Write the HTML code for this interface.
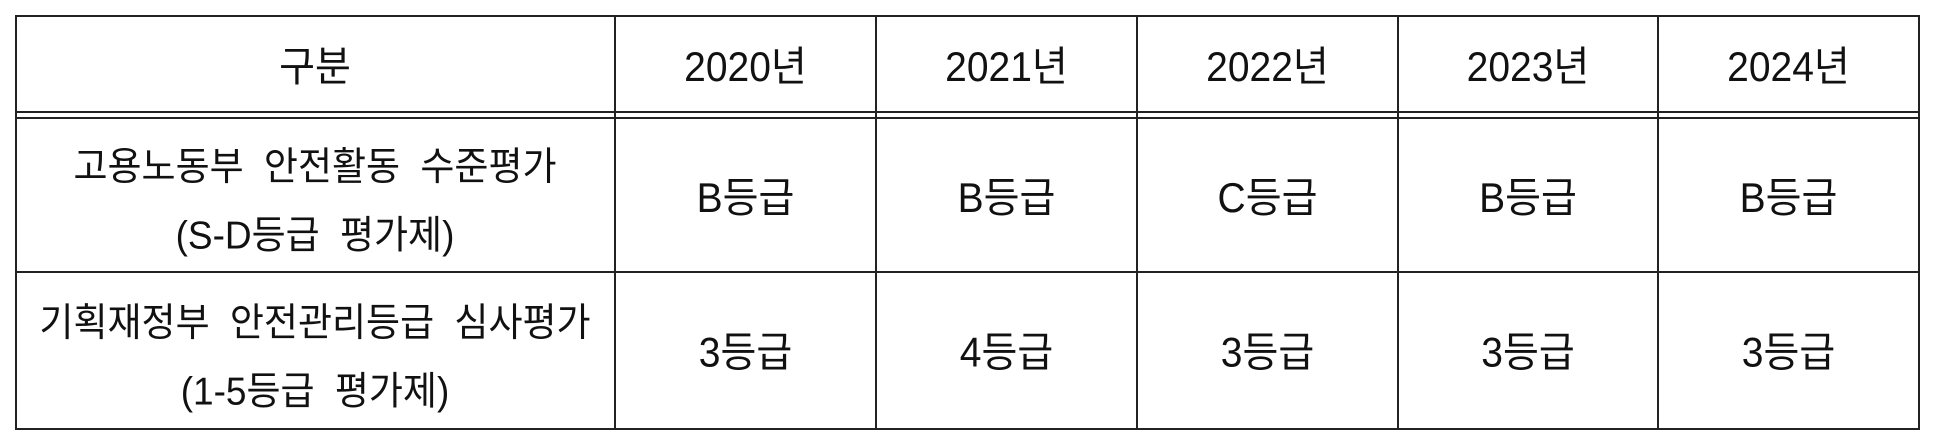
<!DOCTYPE html>
<html><head><meta charset="utf-8"><style>
body{margin:0;background:#fff;width:1940px;height:446px;overflow:hidden;font-family:"Liberation Sans","Noto Sans CJK KR",sans-serif;color:#111}
.c{position:absolute;display:flex;align-items:center;justify-content:center;text-align:center;font-size:39px;line-height:65px;word-spacing:12px;box-sizing:border-box}
.c span{display:inline-block;transform:scaleY(1.06)}
.lab{font-size:37px;word-spacing:10px}
.h{position:absolute;background:#222;height:2px}
.v{position:absolute;background:#222;width:2px;top:15px;height:415px}
</style></head><body>
<div>
<div class="h" style="left:15px;width:1905px;top:15px"></div>
<div class="h" style="left:15px;width:1905px;top:111px"></div>
<div class="h" style="left:15px;width:1905px;top:117px"></div>
<div class="h" style="left:15px;width:1905px;top:271px"></div>
<div class="h" style="left:15px;width:1905px;top:428px"></div>
<div class="v" style="left:15px"></div>
<div class="v" style="left:614px"></div>
<div class="v" style="left:875px"></div>
<div class="v" style="left:1136px"></div>
<div class="v" style="left:1397px"></div>
<div class="v" style="left:1657px"></div>
<div class="v" style="left:1918px"></div>

<div class="c" style="left:15px;width:600px;top:20px;height:94px"><span>구분</span></div>
<div class="c" style="left:616px;width:259px;top:20px;height:94px"><span>2020년</span></div>
<div class="c" style="left:877px;width:259px;top:20px;height:94px"><span>2021년</span></div>
<div class="c" style="left:1138px;width:259px;top:20px;height:94px"><span>2022년</span></div>
<div class="c" style="left:1399px;width:258px;top:20px;height:94px"><span>2023년</span></div>
<div class="c" style="left:1659px;width:259px;top:20px;height:94px"><span>2024년</span></div>

<div class="c lab" style="left:15px;width:600px;top:125px;height:152px"><span>고용노동부 안전활동 수준평가<br>(S-D등급 평가제)</span></div>
<div class="c" style="left:616px;width:259px;top:122px;height:152px"><span>B등급</span></div>
<div class="c" style="left:877px;width:259px;top:122px;height:152px"><span>B등급</span></div>
<div class="c" style="left:1138px;width:259px;top:122px;height:152px"><span>C등급</span></div>
<div class="c" style="left:1399px;width:258px;top:122px;height:152px"><span>B등급</span></div>
<div class="c" style="left:1659px;width:259px;top:122px;height:152px"><span>B등급</span></div>

<div class="c lab" style="left:15px;width:600px;top:279px;height:155px"><span>기획재정부 안전관리등급 심사평가<br>(1-5등급 평가제)</span></div>
<div class="c" style="left:616px;width:259px;top:276px;height:155px"><span>3등급</span></div>
<div class="c" style="left:877px;width:259px;top:276px;height:155px"><span>4등급</span></div>
<div class="c" style="left:1138px;width:259px;top:276px;height:155px"><span>3등급</span></div>
<div class="c" style="left:1399px;width:258px;top:276px;height:155px"><span>3등급</span></div>
<div class="c" style="left:1659px;width:259px;top:276px;height:155px"><span>3등급</span></div>
</div>
</body></html>
